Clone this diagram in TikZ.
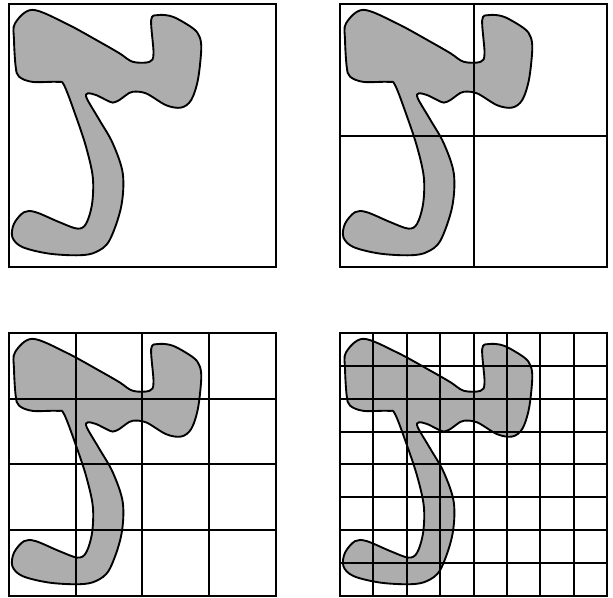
\documentclass[tikz,border=0pt]{standalone}
\usepackage{tikz}

% the blob that is covered by finer and finer grids
\newcommand{\blobfill}{%
  \fill[black!32] plot[smooth cycle, tension=0.55] coordinates {\blobpts};}
\newcommand{\blobline}{%
  \draw[thick] plot[smooth cycle, tension=0.55] coordinates {\blobpts};}
\newcommand{\blobpts}{(0.18,7.41) (0.70,7.82) (1.70,7.41) (2.71,6.85) (3.31,6.50)
  (3.71,6.24) (4.21,6.24) (4.33,6.50) (4.26,7.51) (4.46,7.66) (4.91,7.61)
  (5.51,7.26) (5.71,7.00) (5.76,6.60) (5.66,5.69) (5.46,5.08) (5.16,4.85)
  (4.71,4.92) (4.11,5.28) (3.71,5.33) (3.51,5.23) (3.31,5.08) (3.11,5.00)
  (2.91,5.08) (2.61,5.23) (2.36,5.28) (2.33,5.13) (2.71,4.47) (3.11,3.76)
  (3.41,2.84) (3.36,1.83) (3.01,0.81) (2.61,0.46) (2.11,0.36) (1.20,0.41)
  (0.40,0.61) (0.10,0.91) (0.15,1.32) (0.45,1.67) (0.80,1.67) (1.50,1.37)
  (2.05,1.17) (2.31,1.32) (2.49,1.93) (2.51,2.74) (2.31,3.65) (2.01,4.57)
  (1.65,5.53) (1.45,5.63) (0.70,5.63) (0.30,5.79) (0.20,6.09) (0.15,6.90)}

\begin{document}
\begin{tikzpicture}[x=0.5cm, y=0.4929cm,
    gridline/.style={line width=0.85pt},
    frame/.style={line width=1pt}]
  \useasboundingbox (0,-0.03) rectangle (18.37,18.12);
  \foreach \dx/\dy/\st in {0.27/10/8, 10.19/10/4, 0.27/0/2, 10.19/0/1} {
    \begin{scope}[shift={(\dx,\dy)}]
      \blobfill
      \draw[gridline, step=\st] (0,0) grid (8,8);
      \blobline
      \draw[frame] (0,0) rectangle (8,8);
    \end{scope}
  }
\end{tikzpicture}
\end{document}
